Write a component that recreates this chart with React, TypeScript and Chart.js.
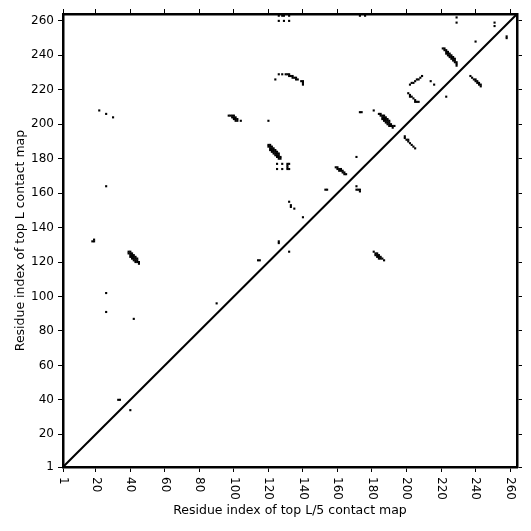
import React, { useEffect, useRef } from "react";
import { Chart, registerables } from "chart.js";

Chart.register(...registerables);

const AXIS_MIN = 1;
const AXIS_MAX = 264;
const tickValues = [1, 20, 40, 60, 80, 100, 120, 140, 160, 180, 200, 220, 240, 260];
const xTitle = "Residue index of top L/5 contact map";
const yTitle = "Residue index of top L contact map";

const diagX = [1, 264];
const diagY = [1, 264];

// contact cells (residue i, residue j)
const contactX = [
  18, 19, 19, 22, 26, 30, 26, 26, 26, 42, 90, 33, 34, 40,
  39, 40, 39, 40, 41, 40, 41, 42, 41, 42, 43, 42, 43, 44, 43, 44, 45, 44, 45, 40, 41, 42, 43,
  97, 98, 99, 100, 99, 100, 101, 100, 101, 102, 101, 102, 104,
  114, 115, 120,
  120, 120, 121, 121, 122, 122, 123, 123, 124, 124, 125, 125, 126, 126, 127, 127, 121, 122, 123, 124, 125, 126,
  121, 122, 123, 124, 125, 126,
  125, 125, 128, 128, 131, 131, 131, 131, 132, 132,
  126, 126, 132,
  132, 133, 133, 135, 140,
  124, 126, 128, 130, 131, 132, 132, 133, 134, 134, 135, 136, 136, 137, 139, 140, 140, 140,
  126, 128, 129, 132, 126, 129, 132, 173, 176,
  153, 154,
  159, 160, 160, 161, 162, 161, 162, 163, 163, 164, 164, 165,
  171, 171, 171, 172, 173, 173,
  173, 174, 181,
  184, 185, 185, 186, 186, 187, 187, 187, 188, 188, 188, 189, 189, 189, 190, 190, 190, 191, 191, 192, 193, 192,
  186, 187, 188, 189, 190,
  181, 182, 183, 183, 184, 184, 185, 185, 186, 187, 182, 183, 184,
  202, 203, 204, 205, 206, 207, 208, 209,
  201, 202, 202, 203, 204, 205, 205, 206, 207,
  199, 199, 200, 201, 201, 202, 203, 204, 205,
  214, 216, 223,
  221, 222, 222, 223, 223, 224, 224, 223, 225, 225, 224, 226, 226, 225, 227, 227, 226, 228, 228, 227, 229, 228, 229, 229,
  237, 238, 239, 240, 240, 241, 241, 242, 242, 243, 243,
  240, 229, 229, 251, 251, 258, 258,
];
const contactY = [
  132, 132, 133, 208, 206, 204, 164, 102, 91, 87, 96, 40, 40, 34,
  126, 126, 125, 125, 125, 124, 124, 124, 123, 123, 123, 122, 122, 122, 121, 121, 120, 120, 119, 123, 122, 121, 120,
  205, 205, 205, 205, 204, 204, 204, 203, 203, 203, 202, 202, 202,
  121, 121, 202,
  188, 187, 187, 186, 186, 185, 185, 184, 184, 183, 183, 182, 182, 181, 181, 180, 188, 187, 186, 185, 184, 183,
  185, 184, 183, 182, 181, 180,
  177, 174, 177, 174, 177, 176, 175, 174, 177, 174,
  132, 131, 126,
  155, 153, 152, 151, 146,
  226, 229, 229, 229, 229, 229, 228, 228, 228, 227, 227, 227, 226, 226, 225, 225, 224, 223,
  263, 263, 263, 263, 260, 260, 260, 263, 263,
  162, 162,
  175, 175, 174, 174, 174, 173, 173, 173, 172, 172, 171, 171,
  181, 164, 162, 162, 162, 161,
  207, 207, 208,
  206, 206, 205, 205, 204, 205, 204, 203, 204, 203, 202, 203, 202, 201, 202, 201, 200, 200, 199, 199, 199, 198,
  203, 202, 201, 200, 199,
  126, 125, 125, 124, 124, 123, 123, 122, 122, 121, 124, 123, 122,
  223, 224, 224, 225, 226, 226, 227, 228,
  218, 217, 216, 216, 215, 214, 213, 213, 213,
  193, 192, 191, 191, 190, 189, 188, 187, 186,
  225, 223, 216,
  244, 244, 243, 243, 242, 242, 241, 241, 241, 240, 240, 240, 239, 239, 239, 238, 238, 238, 237, 237, 236, 236, 235, 234,
  228, 227, 226, 226, 225, 225, 224, 224, 223, 223, 222,
  248, 262, 259, 259, 257, 251, 250,
];

const FONT = '"DejaVu Sans", sans-serif';

const xTickLabelPlugin = {
  id: "xTickLabels",
  afterDraw(chart: any) {
    const s = chart.scales.x;
    const ctx = chart.ctx;
    ctx.save();
    ctx.font = `12px ${FONT}`;
    ctx.fillStyle = "#000";
    ctx.textAlign = "left";
    ctx.textBaseline = "middle";
    tickValues.forEach((v) => {
      const px = s.getPixelForValue(v);
      ctx.save();
      ctx.translate(px, chart.chartArea.bottom + 10);
      ctx.rotate(Math.PI / 2);
      ctx.fillText(String(v), 0, 0);
      ctx.restore();
    });
    ctx.restore();
  },
};

export default function App() {
  const ref = useRef<HTMLCanvasElement | null>(null);

  useEffect(() => {
    if (!ref.current) return;
    const setTicks = (s: any) => {
      s.ticks = tickValues.map((v) => ({ value: v }));
    };
    const grid = {
      display: true,
      drawOnChartArea: false,
      drawTicks: true,
      tickLength: 5,
      color: "#000",
      lineWidth: 1,
    };
    const border = { display: true, color: "#000", width: 2.5 };
    const points = contactX.map((x, i) => ({ x, y: contactY[i] }));
    const diag = diagX.map((x, i) => ({ x, y: diagY[i] }));

    const chart = new Chart(ref.current, {
      type: "scatter",
      data: {
        datasets: [
          {
            data: points,
            pointStyle: "rect",
            pointRadius: 1.5,
            pointBorderWidth: 0,
            borderWidth: 0,
            backgroundColor: "#000",
            pointBackgroundColor: "#000",
            showLine: false,
          } as any,
          {
            data: diag,
            showLine: true,
            pointRadius: 0,
            borderColor: "#000",
            borderWidth: 2,
          } as any,
        ],
      },
      options: {
        animation: false,
        responsive: false,
        maintainAspectRatio: false,
        layout: { padding: 0 },
        plugins: { legend: { display: false }, tooltip: { enabled: false } },
        events: [],
        scales: {
          x: {
            type: "linear",
            position: "bottom",
            min: AXIS_MIN,
            max: AXIS_MAX,
            afterBuildTicks: setTicks,
            afterFit: (s: any) => {
              s.height = 64;
            },
            ticks: { display: false },
            grid,
            border,
            title: {
              display: true,
              text: xTitle,
              color: "#000",
              font: { family: FONT, size: 12.5 },
              padding: { top: 13, bottom: 13 },
            },
          },
          y: {
            type: "linear",
            position: "left",
            min: AXIS_MIN,
            max: AXIS_MAX,
            afterBuildTicks: setTicks,
            afterFit: (s: any) => {
              s.width = 63;
            },
            ticks: {
              display: true,
              padding: 4,
              color: "#000",
              font: { family: FONT, size: 12 },
              callback: (v: any) => String(v),
            },
            grid,
            border,
            title: {
              display: true,
              text: yTitle,
              color: "#000",
              font: { family: FONT, size: 12.5 },
              padding: { top: 13, bottom: 13 },
            },
          },
          x2: {
            type: "linear",
            axis: "x",
            position: "top",
            min: AXIS_MIN,
            max: AXIS_MAX,
            afterBuildTicks: setTicks,
            afterFit: (s: any) => {
              s.height = 14;
            },
            ticks: { display: false },
            grid,
            border,
          },
          y2: {
            type: "linear",
            axis: "y",
            position: "right",
            min: AXIS_MIN,
            max: AXIS_MAX,
            afterBuildTicks: setTicks,
            afterFit: (s: any) => {
              s.width = 14;
            },
            ticks: { display: false },
            grid,
            border,
          },
        } as any,
      },
      plugins: [xTickLabelPlugin],
    });
    return () => chart.destroy();
  }, []);

  return (
    <div style={{ position: "absolute", left: 0, top: 0, width: 531, height: 531, background: "#fff" }}>
      <canvas ref={ref} width={531} height={531} style={{ width: 531, height: 531 }} />
    </div>
  );
}
